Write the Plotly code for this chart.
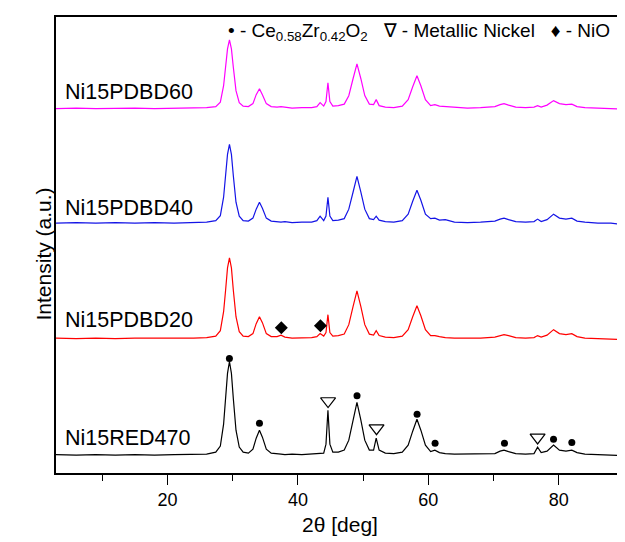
import plotly.graph_objects as go

# 2theta grid (deg), denser around the peaks
two_theta = [2.9, 6.0, 9.0, 12.0, 15.0, 18.0, 21.0, 24.0, 26.0, 27.4,
             28.1, 28.6, 28.9, 29.2, 29.5, 29.8, 30.1, 30.5, 31.0, 31.6,
             32.4, 33.1, 33.6, 34.1, 34.55, 35.15, 35.9, 36.8, 37.4, 38.0,
             39.1, 40.6, 42.1, 42.9, 43.4, 43.95, 44.3, 44.6, 44.9, 45.35,
             46.2, 47.1, 47.8, 48.45, 49.05, 49.65, 50.25, 50.95, 51.6, 52.0,
             52.45, 53.4, 54.7, 56.0, 56.9, 57.6, 58.25, 58.85, 59.55, 60.35,
             61.0, 61.7, 62.6, 64.0, 66.0, 68.0, 70.2, 71.0, 71.6, 72.3,
             73.4, 74.9, 76.2, 76.75, 77.3, 78.2, 79.2, 80.1, 81.1, 82.0,
             82.8, 84.0, 86.0, 88.0, 90.0]

# intensities above each pattern's own baseline (a.u.)
red470 = [0.5, 0, 0.5, 0, 0.5, 0, 0.5, 0.5, 1, 3,
          9, 31, 56, 82, 94, 82, 56, 25, 8, 3,
          2, 6, 17, 25, 18, 6, 2, 1, 1, 0.5,
          1, 0.5, 1, 1, 1.5, 2, 11, 45, 11, 3,
          3, 5, 15, 35, 53, 35, 15, 5, 5, 17,
          5, 2, 1.5, 3, 10, 24, 36, 25, 10, 3.5,
          5, 2.5, 1.5, 1, 1, 1, 1.5, 4, 5, 3.5,
          1.5, 1, 1.5, 8, 2.5, 4, 10, 5, 4, 5,
          2.5, 1, 0.5, 0, -0.5]
pdbd20 = [0.5, 0, 0.5, 0, 0.5, 0.5, 0, 0.5, 1, 2.5,
          8, 27, 48, 71, 81, 71, 48, 22, 7, 2.5,
          2, 5, 15, 22, 16, 5, 2, 2, 3.5, 1.5,
          0.5, 0.5, 1, 2, 5, 2.5, 6, 24, 6, 2.5,
          3, 4.5, 14, 32, 48, 32, 14, 4.5, 3.5, 8,
          3, 1.5, 1, 2.5, 9, 22, 33, 23, 9, 3,
          3, 2, 1, 0.5, 0.5, 0.5, 1.5, 3, 4, 3,
          1, 0.5, 1, 3, 1.5, 3.5, 9, 5, 4, 5,
          2, 0.5, 0, -0.5, -1]
pdbd40 = [0, 0.5, 0, 0.5, 0, 0.5, 0, 0.5, 1, 2.5,
          7.5, 26, 47, 69, 79, 69, 47, 21, 7, 2.5,
          2, 5, 14, 21, 15, 5, 2, 1, 1, 1.5,
          0.5, 1, 1, 2.5, 7, 2.5, 7, 26, 7, 2.5,
          3, 4.5, 14, 31, 47, 31, 14, 4.5, 3.5, 7,
          3, 1.5, 1, 2.5, 9, 22, 33, 23, 9, 4.5,
          5, 3, 3.5, 1, 0.5, 1, 2, 4, 5, 3.5,
          1.5, 1, 1.5, 4, 1.5, 3.5, 9, 5, 4, 5,
          2, 1, 0, 0, -1.5]
pdbd60 = [0, 0.5, 0, 0.5, 0.5, 0, 0.5, 0.5, 1, 2,
          6.5, 23, 41, 60, 69, 60, 41, 18, 6, 2.5,
          2, 5, 14, 20, 14, 5, 2, 1.5, 2, 1.5,
          0.5, 1, 1, 2, 6, 2.5, 7, 26, 7, 2.5,
          3, 4.5, 13, 30, 45, 30, 13, 4.5, 4, 9,
          3, 1.5, 1, 2.5, 9, 22, 33, 23, 9, 3,
          4, 2.5, 2, 1, 0.5, 1, 2, 4, 5, 3.5,
          1.5, 1, 1.5, 3, 1.5, 3.5, 8, 5, 4, 4.5,
          2, 1, 0.5, 0, -0.5]

names = ["Ni15RED470", "Ni15PDBD20", "Ni15PDBD40", "Ni15PDBD60"]
patterns = [red470, pdbd20, pdbd40, pdbd60]
offsets = [20, 137, 253, 368]
colors = ["black", "#ff0000", "#1414e6", "#ff00ff"]
label_y = [37, 156, 268, 385]

# phase markers
ce_x = [29.49, 34.1, 49.06, 58.27, 61.03, 71.67, 79.19, 82.0]
ce_y = [117, 52, 79.7, 61, 32, 32, 36, 32.7]
ni_x = [44.62, 52.05, 76.75]
ni_y = [74.3, 47, 37.7]
nio_x = [37.45, 43.45]
nio_y = [148, 150]

fnt = "Liberation Sans, Arial, sans-serif"

fig = go.Figure()
for nm, pat, off, col in zip(names, patterns, offsets, colors):
    fig.add_trace(go.Scatter(x=two_theta, y=[v + off for v in pat], mode="lines",
                             line=dict(color=col, width=1.2), name=nm))

fig.add_trace(go.Scatter(x=ce_x, y=ce_y, mode="markers",
                         marker=dict(symbol="circle", size=7, color="black")))
fig.add_trace(go.Scatter(x=ni_x, y=ni_y, mode="markers",
                         marker=dict(symbol="triangle-down-open", size=13, color="black",
                                     line=dict(width=1.2))))
fig.add_trace(go.Scatter(x=nio_x, y=nio_y, mode="markers",
                         marker=dict(symbol="diamond", size=10, color="black")))

for nm, yy in zip(names, label_y):
    fig.add_annotation(x=4.0, y=yy, text=nm, showarrow=False, xanchor="left",
                       yanchor="middle", font=dict(size=21.5, color="black", family=fnt))

fig.add_annotation(xref="paper", yref="paper", x=0.30, y=0.968, xanchor="left", yanchor="middle",
                   text="\u2022 - Ce<sub>0.58</sub>Zr<sub>0.42</sub>O<sub>2</sub>   \u2207 - Metallic Nickel   \u2666 - NiO",
                   showarrow=False, font=dict(size=19, color="black", family=fnt))
fig.add_annotation(xref="paper", yref="paper", x=0.5, y=-0.142, text="2\u03b8 [deg]",
                   showarrow=False, font=dict(size=21, color="black", family=fnt))
fig.add_annotation(xref="paper", yref="paper", x=-0.046, y=0.48, text="Intensity (a.u.)",
                   textangle=-90, showarrow=False, font=dict(size=21, color="black", family=fnt))

fig.update_xaxes(range=[2.9, 90], tickvals=[20, 40, 60, 80], ticks="outside", ticklen=10,
                 tickwidth=1.2, tickcolor="black", showline=True, linecolor="black",
                 linewidth=1.5, mirror=True, showgrid=False, zeroline=False,
                 minor=dict(tickvals=[10, 30, 50, 70], ticks="outside", ticklen=6,
                            tickwidth=1.2, tickcolor="black"),
                 tickfont=dict(size=18, color="black", family=fnt))
fig.update_yaxes(range=[2, 460], showticklabels=False, ticks="", showline=True,
                 linecolor="black", linewidth=1.5, mirror=True, showgrid=False, zeroline=False)

fig.update_layout(width=625, height=542, margin=dict(l=48, r=8, t=7, b=77),
                  plot_bgcolor="white", paper_bgcolor="white", showlegend=False)

fig.write_html("out.html")
